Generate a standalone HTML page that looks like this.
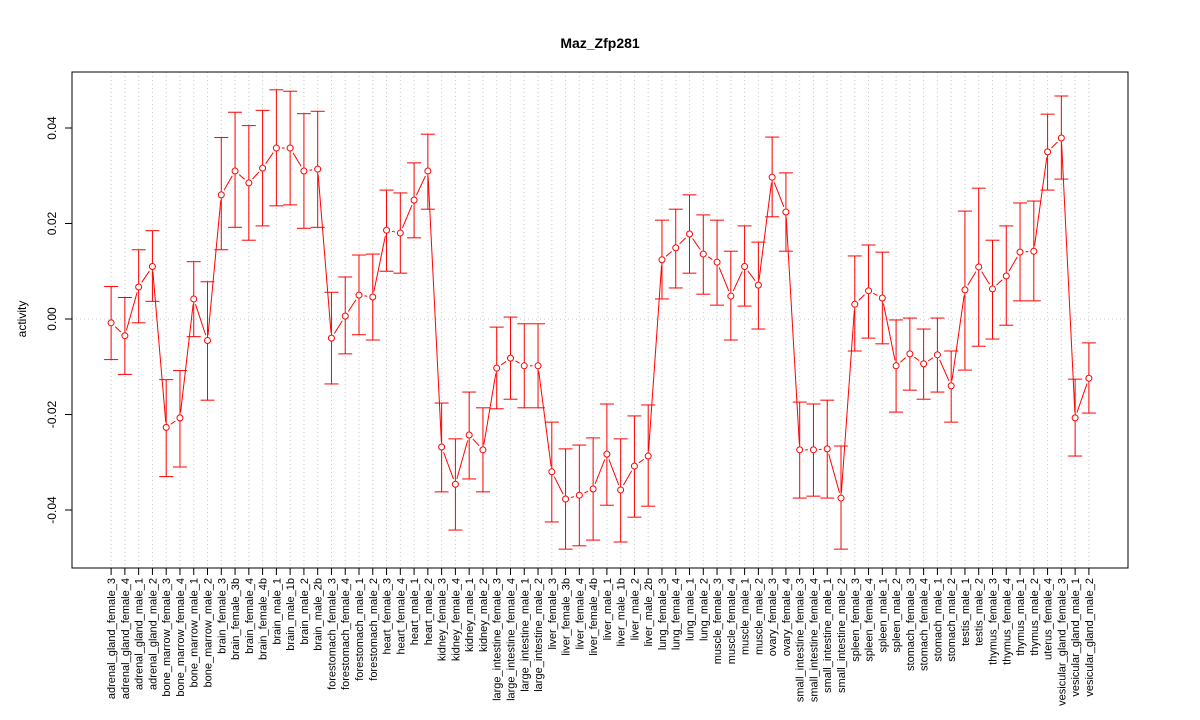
<!DOCTYPE html>
<html><head><meta charset="utf-8"><style>
body{margin:0;background:#fff;}
svg{display:block;font-family:"Liberation Sans",Arial,sans-serif;}
</style></head><body>
<svg id="chart" width="1200" height="720"></svg>
<script>
const categories=["adrenal_gland_female_3","adrenal_gland_female_4","adrenal_gland_male_1","adrenal_gland_male_2","bone_marrow_female_3","bone_marrow_female_4","bone_marrow_male_1","bone_marrow_male_2","brain_female_3","brain_female_3b","brain_female_4","brain_female_4b","brain_male_1","brain_male_1b","brain_male_2","brain_male_2b","forestomach_female_3","forestomach_female_4","forestomach_male_1","forestomach_male_2","heart_female_3","heart_female_4","heart_male_1","heart_male_2","kidney_female_3","kidney_female_4","kidney_male_1","kidney_male_2","large_intestine_female_3","large_intestine_female_4","large_intestine_male_1","large_intestine_male_2","liver_female_3","liver_female_3b","liver_female_4","liver_female_4b","liver_male_1","liver_male_1b","liver_male_2","liver_male_2b","lung_female_3","lung_female_4","lung_male_1","lung_male_2","muscle_female_3","muscle_female_4","muscle_male_1","muscle_male_2","ovary_female_3","ovary_female_4","small_intestine_female_3","small_intestine_female_4","small_intestine_male_1","small_intestine_male_2","spleen_female_3","spleen_female_4","spleen_male_1","spleen_male_2","stomach_female_3","stomach_female_4","stomach_male_1","stomach_male_2","testis_male_1","testis_male_2","thymus_female_3","thymus_female_4","thymus_male_1","thymus_male_2","uterus_female_4","vesicular_gland_female_3","vesicular_gland_male_1","vesicular_gland_male_2"];
const means=[-0.0008,-0.0035,0.0067,0.011,-0.0227,-0.0207,0.0042,-0.0045,0.026,0.031,0.0285,0.0316,0.0358,0.0358,0.031,0.0314,-0.004,0.0006,0.005,0.0046,0.0186,0.018,0.0249,0.031,-0.0268,-0.0346,-0.0243,-0.0274,-0.0103,-0.0082,-0.0098,-0.0098,-0.032,-0.0377,-0.0369,-0.0356,-0.0283,-0.0358,-0.0308,-0.0287,0.0124,0.0149,0.0178,0.0136,0.0119,0.0048,0.011,0.0071,0.0297,0.0224,-0.0274,-0.0274,-0.0272,-0.0375,0.0031,0.0059,0.0044,-0.0098,-0.0073,-0.0094,-0.0075,-0.014,0.0061,0.0109,0.0063,0.009,0.014,0.0142,0.035,0.0379,-0.0207,-0.0124];
const upper=[0.0068,0.0045,0.0145,0.0185,-0.0127,-0.0108,0.012,0.0078,0.038,0.0433,0.0405,0.0437,0.048,0.0477,0.043,0.0435,0.0056,0.0088,0.0134,0.0136,0.027,0.0264,0.0327,0.0387,-0.0176,-0.0251,-0.0153,-0.0186,-0.0017,0.0004,-0.001,-0.001,-0.0216,-0.0272,-0.0264,-0.0249,-0.0178,-0.0251,-0.0203,-0.018,0.0207,0.023,0.026,0.0218,0.0207,0.0142,0.0195,0.0161,0.0381,0.0306,-0.0174,-0.0178,-0.017,-0.0266,0.0132,0.0155,0.014,-0.0002,0.0002,-0.0021,0.0002,-0.0067,0.0226,0.0274,0.0165,0.0195,0.0243,0.0247,0.0429,0.0467,-0.0126,-0.005];
const lower=[-0.0085,-0.0116,-0.0008,0.0037,-0.033,-0.031,-0.0037,-0.017,0.0145,0.0192,0.0165,0.0195,0.0237,0.0239,0.019,0.0192,-0.0136,-0.0073,-0.0033,-0.0044,0.01,0.0096,0.017,0.023,-0.0362,-0.0442,-0.0335,-0.0362,-0.0188,-0.0168,-0.0186,-0.0186,-0.0425,-0.0482,-0.0475,-0.0463,-0.039,-0.0467,-0.0415,-0.0392,0.0042,0.0065,0.0096,0.0052,0.0029,-0.0044,0.0027,-0.0021,0.0214,0.0142,-0.0375,-0.0371,-0.0375,-0.0482,-0.0067,-0.004,-0.0052,-0.0195,-0.0149,-0.0168,-0.0153,-0.0216,-0.0107,-0.0057,-0.0042,-0.0013,0.0038,0.0038,0.027,0.0293,-0.0287,-0.0197];
const yTicks=[-0.04,-0.02,0,0.02,0.04];
const yTickLabels=["-0.04","-0.02","0.00","0.02","0.04"];

const NS="http://www.w3.org/2000/svg";
const svg=document.getElementById('chart');
const L=72,R=1128,T=72,B=568;
const n=categories.length;
const pad=(n-1)*0.04;
function xs(i){return L+(i+pad)*(R-L)/((n-1)+2*pad);}
function ys(v){return 319-v*4775;}
function mk(tag,attrs,name,parent){const e=document.createElementNS(NS,tag);for(const k in attrs)e.setAttribute(k,attrs[k]);


(parent||svg).appendChild(e);return e;}

// grid
const grid=mk('g',{},'grid');
for(let i=0;i<n;i++){const x=xs(i);mk('line',{x1:x,x2:x,y1:T,y2:B,stroke:'#c8c8c8','stroke-dasharray':'1,3','stroke-width':1},'grid-line-x',grid);}
mk('line',{x1:L,x2:R,y1:ys(0),y2:ys(0),stroke:'#c8c8c8','stroke-dasharray':'1,3'},'zero-line',grid);

// series
const ser=mk('g',{stroke:'#ff0000',fill:'none','stroke-width':1},'series');
for(let i=0;i<n-1;i++){
  const x1=xs(i),y1=ys(means[i]),x2=xs(i+1),y2=ys(means[i+1]);
  const dx=x2-x1,dy=y2-y1,d=Math.hypot(dx,dy),g=5.5;
  if(d>2*g){mk('line',{x1:x1+dx*g/d,y1:y1+dy*g/d,x2:x2-dx*g/d,y2:y2-dy*g/d},'series-line-segment',ser);}
}
for(let i=0;i<n;i++){
  const x=xs(i),yu=ys(upper[i]),yl=ys(lower[i]);
  mk('line',{x1:x,x2:x,y1:yu,y2:yl},'error-bar',ser);
  mk('line',{x1:x-7,x2:x+7,y1:yu,y2:yu},'error-cap-upper',ser);
  mk('line',{x1:x-7,x2:x+7,y1:yl,y2:yl},'error-cap-lower',ser);
  mk('circle',{cx:x,cy:ys(means[i]),r:3,fill:'#fff'},'data-point',ser);
}

// frame
mk('rect',{x:L,y:T,width:R-L,height:B-T,fill:'none',stroke:'#000'},'plot-frame');

// y axis
const ya=mk('g',{},'y-axis');
mk('line',{x1:L,x2:L,y1:ys(-0.04),y2:ys(0.04),stroke:'#000'},'y-axis-line',ya);
for(let k=0;k<yTicks.length;k++){
  const y=ys(yTicks[k]);
  mk('line',{x1:L-7,x2:L,y1:y,y2:y,stroke:'#000'},'y-tick',ya);
  const t=mk('text',{x:56,y:y,transform:`rotate(-90 56 ${y})`,'text-anchor':'middle','font-size':12},'y-tick-label',ya);
  t.textContent=yTickLabels[k];
}
const yt=mk('text',{x:26,y:319,transform:'rotate(-90 26 319)','text-anchor':'middle','font-size':12},'y-axis-title');
yt.textContent='activity';

// x axis
const xa=mk('g',{},'x-axis');
mk('line',{x1:xs(0),x2:xs(n-1),y1:B,y2:B,stroke:'#000'},'x-axis-line',xa);
for(let i=0;i<n;i++){
  const x=xs(i);
  mk('line',{x1:x,x2:x,y1:B,y2:B+7,stroke:'#000'},'x-tick',xa);
  const t=mk('text',{x:x+4,y:578,transform:`rotate(-90 ${x+4} 578)`,'text-anchor':'end','font-size':11},'x-tick-label',xa);
  t.textContent=categories[i];
}
const title=mk('text',{x:600,y:48,'text-anchor':'middle','font-size':14,'font-weight':'bold'},'chart-title');
title.textContent='Maz_Zfp281';
</script>
</body></html>
